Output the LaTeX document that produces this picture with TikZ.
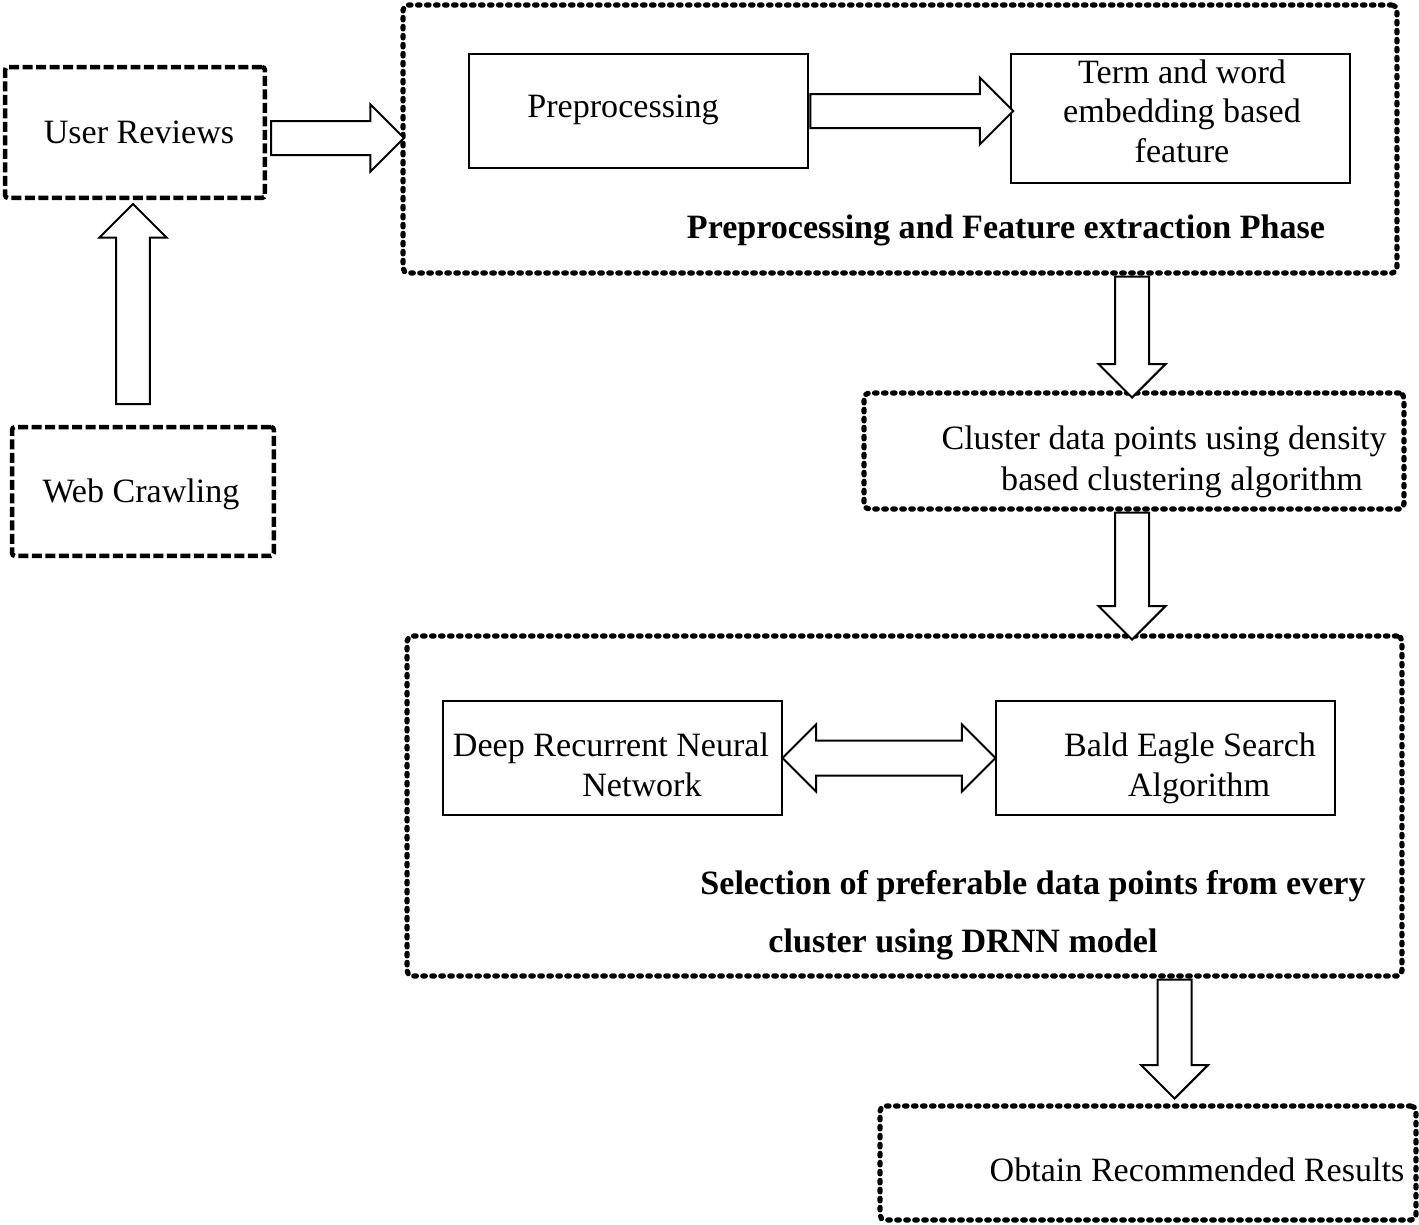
\documentclass[tikz,border=0pt]{standalone}
\usepackage{fontspec}
\setmainfont{Liberation Serif}
\usetikzlibrary{shapes.arrows,calc}

\tikzset{
  dashbox/.style={rectangle, draw, line width=0.09cm,
                  dash pattern=on 0.2cm off 0.07cm, rounded corners=0.06cm},
  dotbox/.style={rectangle, draw, line width=0.105cm, line cap=round,
                 dash pattern=on 0.05cm off 0.13cm, rounded corners=0.1cm},
  plainbox/.style={rectangle, draw, line width=0.055cm},
  fatarrow/.style={single arrow, draw, fill=white, line width=0.04cm,
                   inner xsep=0pt, inner ysep=0.32cm, minimum width=1.3cm,
                   single arrow head extend=0.33cm, anchor=tail},
  fatdouble/.style={double arrow, draw, fill=white, line width=0.04cm,
                    inner xsep=0pt, inner ysep=0.33cm, minimum width=1.3cm,
                    double arrow head extend=0.32cm},
  lbl/.style={anchor=base, inner sep=0pt,
              font=\fontsize{19.4}{23}\selectfont},
  boldlbl/.style={lbl, font=\fontsize{19.4}{23}\selectfont\bfseries}
}

\begin{document}
\begin{tikzpicture}[x=0.02cm, y=-0.02cm]

    \useasboundingbox (0,0) rectangle (1419,1224);

    % left column
    \node[dashbox,
          minimum width = 5.2cm,
          minimum height = 2.62cm
          ] (userrev) at (135,132.5) {};
    \node[lbl] at (139,143) {User Reviews};

    \node[dashbox,
          minimum width = 5.24cm,
          minimum height = 2.58cm
          ] (webcrawl) at (143,491.5) {};
    \node[lbl] at (141,502) {Web Crawling};

    % first phase
    \node[dotbox,
          minimum width = 19.88cm,
          minimum height = 5.36cm
          ] (phase1) at (900,139) {};
    \node[boldlbl] at (1006,238) {Preprocessing and Feature extraction Phase};

    \node[plainbox,
          minimum width = 6.78cm,
          minimum height = 2.28cm
          ] (prep) at (638.5,111) {};
    \node[lbl] at (623,117) {Preprocessing};

    \node[plainbox,
          minimum width = 6.78cm,
          minimum height = 2.58cm
          ] (term) at (1180.5,118.5) {};
    \node[lbl] at (1182,83) {Term and word};
    \node[lbl] at (1182,122) {embedding based};
    \node[lbl] at (1182,162) {feature};

    % clustering
    \node[dotbox,
          minimum width = 10.8cm,
          minimum height = 2.32cm
          ] (cluster) at (1134,451) {};
    \node[lbl] at (1164,449) {Cluster data points using density};
    \node[lbl] at (1182,490) {based clustering algorithm};

    % second phase
    \node[dotbox,
          minimum width = 19.9cm,
          minimum height = 6.8cm
          ] (phase2) at (904.5,806) {};

    \node[plainbox,
          minimum width = 6.78cm,
          minimum height = 2.28cm
          ] (drnn) at (612.5,758) {};
    \node[lbl] at (611,756) {Deep Recurrent Neural};
    \node[lbl] at (642,796) {Network};

    \node[plainbox,
          minimum width = 6.78cm,
          minimum height = 2.28cm
          ] (bes) at (1165.5,758) {};
    \node[lbl] at (1190,756) {Bald Eagle Search};
    \node[lbl] at (1199,796) {Algorithm};

    \node[boldlbl] at (1033,894) {Selection of preferable data points from every};
    \node[boldlbl] at (963,952) {cluster using DRNN model};

    % result
    \node[dotbox,
          minimum width = 10.72cm,
          minimum height = 2.28cm
          ] (result) at (1148,1163) {};
    \node[lbl] at (1197,1181) {Obtain Recommended Results};

    % block arrows, placed by their tails
    \node[fatarrow, rotate=90, minimum height=4cm] (a1) at (133,405) {};
    \node[fatarrow, minimum height=2.66cm] (a2) at (270,138) {};
    \node[fatarrow, minimum height=4.06cm] (a3) at (prep.east) {};
    \node[fatarrow, rotate=-90, minimum height=2.42cm] (a4)
         at (phase1.south -| 1132,0) {};
    \node[fatarrow, rotate=-90, minimum height=2.54cm] (a5)
         at (cluster.south -| 1132,0) {};
    \node[fatdouble, minimum height=4.26cm] (a6)
         at ($(drnn.east)!0.5!(bes.west)$) {};
    \node[fatarrow, rotate=-90, minimum height=2.38cm] (a7)
         at (phase2.south -| 1174.5,0) {};

\end{tikzpicture}
\end{document}
